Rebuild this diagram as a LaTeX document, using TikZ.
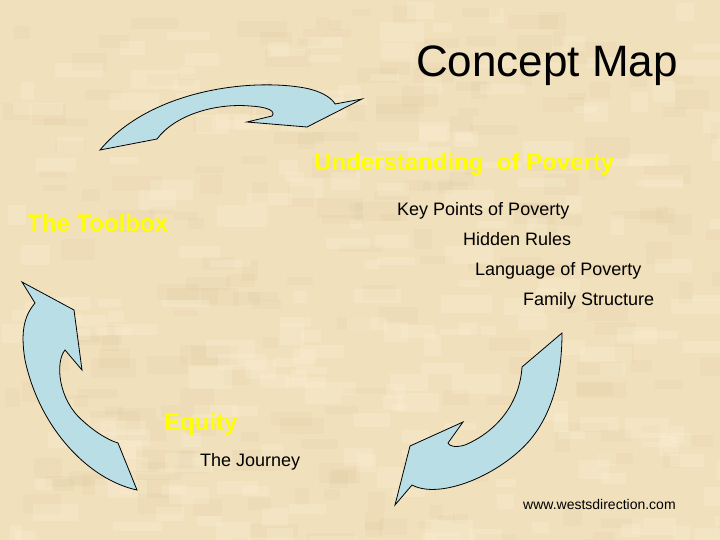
\documentclass[tikz,border=0pt]{standalone}
\usepackage{fontspec}
\setmainfont{Liberation Sans}
\definecolor{parchment}{RGB}{240,224,188}
\definecolor{parchdark}{RGB}{205,180,135}
\definecolor{parchlight}{RGB}{252,242,218}
\definecolor{arrowblue}{RGB}{185,222,230}
\definecolor{headyellow}{RGB}{255,255,0}

\begin{document}
\begin{tikzpicture}[
  x=1pt,y=-1pt,
  title/.style={anchor=base west,inner sep=0pt,font=\fontsize{44}{50}\selectfont},
  heading/.style={anchor=base west,inner sep=0pt,text=headyellow,font=\fontsize{24}{28}\selectfont\bfseries},
  item/.style={anchor=base west,inner sep=0pt,font=\fontsize{18}{22}\selectfont},
  footer/.style={anchor=base west,inner sep=0pt,font=\fontsize{14}{17}\selectfont},
  cyclearrow/.style={draw=black,line width=0.8pt,fill=arrowblue,line join=miter}
]
  \useasboundingbox (0,0) rectangle (720,540);
  % parchment background
  \begin{scope}
    \clip (0,0) rectangle (720,540);
    \fill[parchment] (0,0) rectangle (720,540);
    \pgfmathsetseed{7}
    \foreach \i in {1,...,220}{
      \pgfmathsetmacro{\px}{rnd*720}
      \pgfmathsetmacro{\py}{rnd*540}
      \pgfmathsetmacro{\pw}{12+rnd*40}
      \pgfmathsetmacro{\ph}{6+rnd*16}
      \fill[parchdark,opacity=0.08] (\px,\py) rectangle ++(\pw,\ph);
    }
    \foreach \i in {1,...,220}{
      \pgfmathsetmacro{\px}{rnd*720}
      \pgfmathsetmacro{\py}{rnd*540}
      \pgfmathsetmacro{\pw}{12+rnd*40}
      \pgfmathsetmacro{\ph}{6+rnd*16}
      \fill[parchlight,opacity=0.25] (\px,\py) rectangle ++(\pw,\ph);
    }
  \end{scope}

  % the three cycle arrows
  \draw[cyclearrow] (100,150) .. controls (150,90) and (250,78) .. (305,88)
    .. controls (325,92) and (333,100) .. (335,104) -- (362,99) -- (307,127)
    -- (247,122) -- (272,116) .. controls (276,111) and (268,107) .. (250,106)
    .. controls (215,103) and (175,115) .. (157,139) -- cycle;
  \draw[cyclearrow] (562,333) -- (522,367) .. controls (520,400) and (500,430) .. (465,445)
    .. controls (455,448) and (449,446) .. (448,443) -- (463,422) -- (410,446)
    -- (395,505) -- (412,485) .. controls (440,500) and (500,475) .. (530,440)
    .. controls (555,410) and (562,370) .. cycle;
  \draw[cyclearrow] (22,282) -- (74,310) -- (82,370) -- (65,350)
    .. controls (55,362) and (58,400) .. (83,421)
    .. controls (95,432) and (108,440) .. (118,443) -- (137,490)
    .. controls (90,480) and (40,430) .. (25,360)
    .. controls (20,330) and (25,315) .. (35,303) -- cycle;

  % texts
  \node[title] (title) at (416,77) {Concept Map};
  \node[heading] (understanding) at (314,171) {Understanding\ \ of Poverty};
  \node[heading] (toolbox) at (27,231) {The Toolbox};
  \node[item] (keypoints) at (397,215) {Key Points of Poverty};
  \node[item] (hiddenrules) at (463,245) {Hidden Rules};
  \node[item] (language) at (475,275) {Language of Poverty};
  \node[item] (family) at (523,305) {Family Structure};
  \node[heading] (equity) at (164,430) {Equity};
  \node[item] (journey) at (200,466) {The Journey};
  \node[footer] (website) at (523,509) {www.westsdirection.com};
\end{tikzpicture}
\end{document}
